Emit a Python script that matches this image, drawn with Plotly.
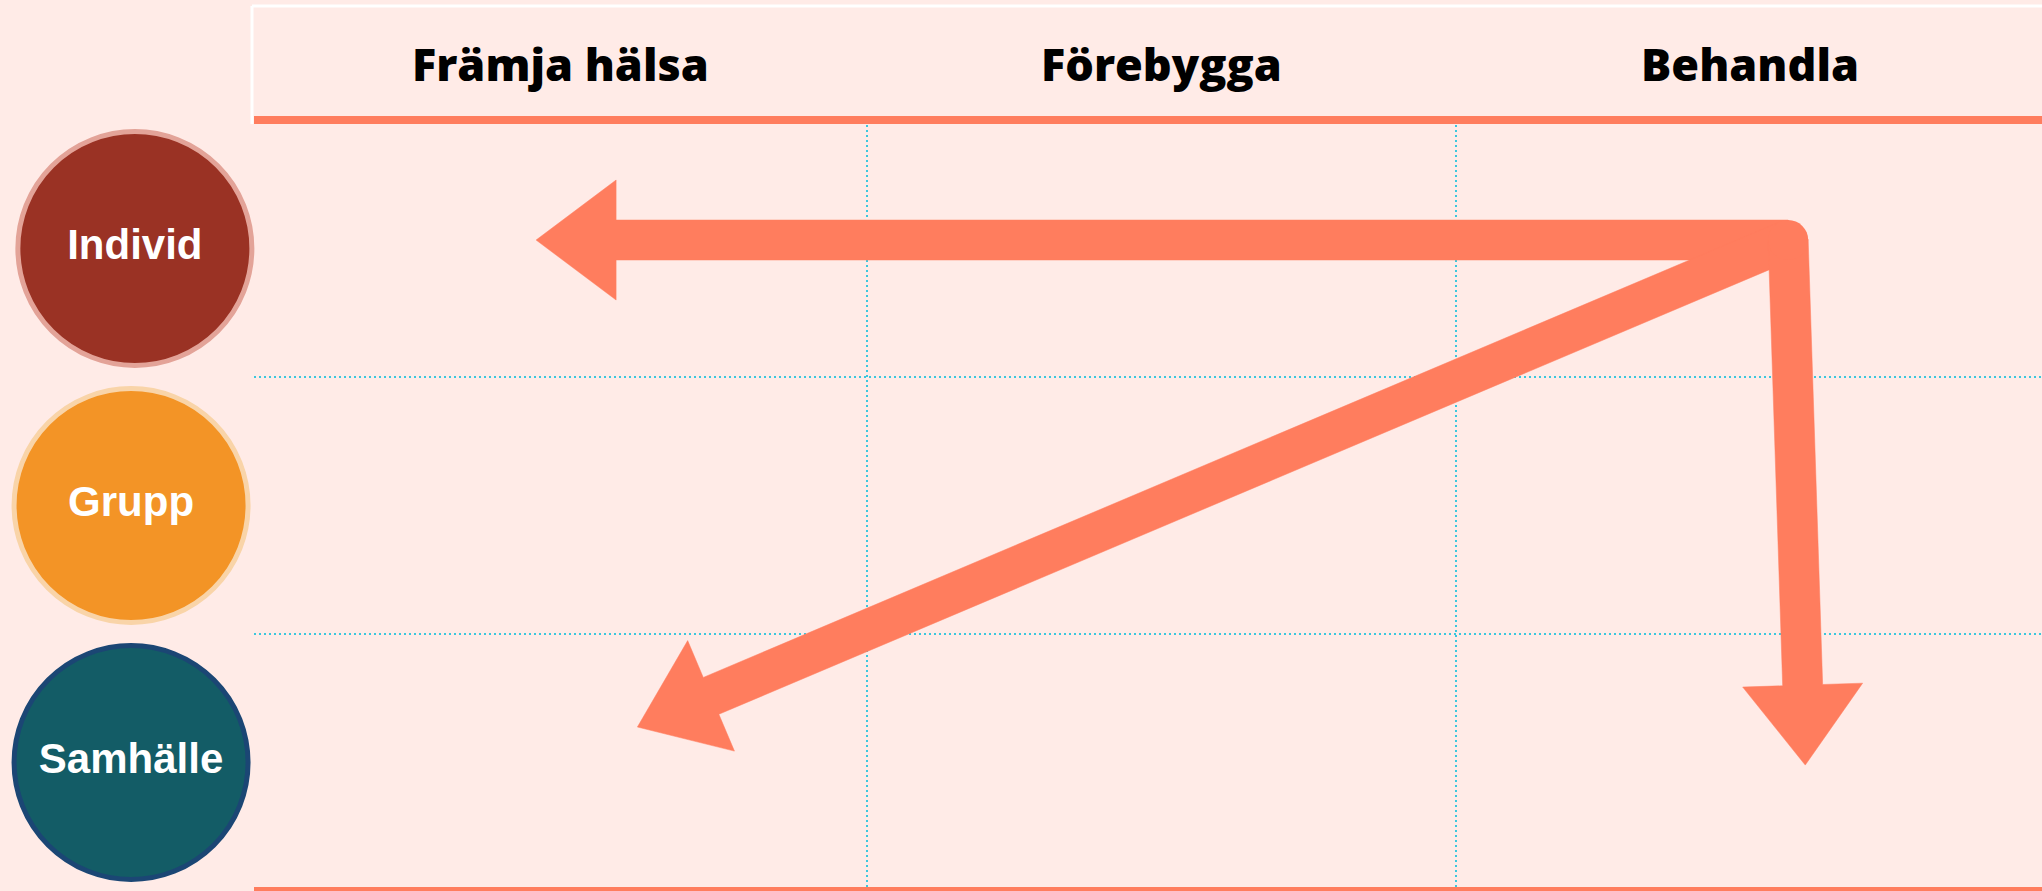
import numpy as np
import plotly.graph_objects as go

# ---------------- data ----------------
columns = ["Främja hälsa", "Förebygga", "Behandla"]
levels = ["Individ", "Grupp", "Samhälle"]
level_fill = ["#9A3224", "#F39426", "#135C66"]
level_border = ["#E3A398", "#F9D4A8", "#1B4674"]
circle_x = [0.531, 0.516, 0.516]
circle_y = [0.5, 1.5, 2.5]

arrow_start = (2.564, 0.467)
arrow_end_x = [0.438, 0.610, 2.593]
arrow_end_y = [0.467, 2.362, 2.510]

# ---------------- layout constants ----------------
W, H = 2042, 891
ML, MT = 254, 120
PW, PH = W - ML, H - MT
XR = [-0.041, 2.995]
YR = [3, 0]
BG = "#FFEBE7"
ARROW = "#FF7D5E"
GRID = "#3CC7DD"

def to_px(x, y):
    px = ML + (x - XR[0]) / (XR[1] - XR[0]) * PW
    py = MT + (y - YR[1]) / (YR[0] - YR[1]) * PH
    return np.array([px, py])

def to_data(p):
    x = XR[0] + (p[0] - ML) / PW * (XR[1] - XR[0])
    y = YR[1] + (p[1] - MT) / PH * (YR[0] - YR[1])
    return x, y

def pxx(px):
    return px / W

def pyy(py):
    return (H - py) / H

fig = go.Figure()

SHAFT = 40.0
HEAD_W = 120.0
HEAD_L = 80.0

S = to_px(*arrow_start)
for ex, ey in zip(arrow_end_x, arrow_end_y):
    T = to_px(ex, ey)
    d = T - S
    u = d / np.linalg.norm(d)
    n = np.array([-u[1], u[0]])
    B = T - HEAD_L * u
    pts = [S + SHAFT / 2 * n, B + SHAFT / 2 * n, B + HEAD_W / 2 * n, T,
           B - HEAD_W / 2 * n, B - SHAFT / 2 * n, S - SHAFT / 2 * n]
    xs, ys = zip(*[to_data(p) for p in pts])
    fig.add_trace(go.Scatter(x=list(xs) + [xs[0]], y=list(ys) + [ys[0]],
                             mode="lines", fill="toself", fillcolor=ARROW,
                             line=dict(color=ARROW, width=0.5),
                             hoverinfo="skip", showlegend=False))

# round joint at the arrows' common start
fig.add_trace(go.Scatter(x=[arrow_start[0]], y=[arrow_start[1]], mode="markers",
                         marker=dict(size=SHAFT, color=ARROW, line=dict(width=0)),
                         hoverinfo="skip", showlegend=False))

# level circles (own small subplot on the left)
fig.add_trace(go.Scatter(
    x=circle_x, y=circle_y, mode="markers+text", text=levels,
    textposition="middle center", xaxis="x2", yaxis="y2",
    textfont=dict(family="Liberation Sans, Arial", size=42, color="white", weight="bold"),
    marker=dict(size=234, color=level_fill, line=dict(color=level_border, width=5)),
    cliponaxis=False, hoverinfo="skip", showlegend=False))

# column headers
first_center = (XR[0] + 1) / 2
col_centers = [first_center, 1.5, 2.5]
annotations = []
for cx, lab in zip(col_centers, columns):
    annotations.append(dict(x=cx, xref="x", y=pyy(63), yref="paper", text=lab,
                            showarrow=False, xanchor="center", yanchor="middle",
                            font=dict(family="Open Sans", size=45, color="black", weight=800)))

shapes = [
    # white header frame (top & left)
    dict(type="line", xref="paper", yref="paper", x0=pxx(252), x1=1.01,
         y0=pyy(6), y1=pyy(6), line=dict(color="white", width=3), layer="above"),
    dict(type="line", xref="paper", yref="paper", x0=pxx(252), x1=pxx(252),
         y0=pyy(6), y1=pyy(124), line=dict(color="white", width=3), layer="above"),
    # orange header underline
    dict(type="line", xref="paper", yref="paper", x0=pxx(ML), x1=1.01, y0=pyy(MT), y1=pyy(MT),
         line=dict(color=ARROW, width=8), layer="above"),
    # orange bottom line
    dict(type="line", xref="paper", yref="paper", x0=pxx(ML), x1=1.01, y0=0, y1=0,
         line=dict(color=ARROW, width=8), layer="above"),
]

noax = dict(showticklabels=False, ticks="", showgrid=False, zeroline=False,
            showline=False, fixedrange=True)

fig.update_layout(
    width=W, height=H,
    margin=dict(l=0, r=0, t=0, b=0, pad=0),
    paper_bgcolor=BG, plot_bgcolor=BG,
    showlegend=False,
    annotations=annotations,
    shapes=shapes,
    xaxis=dict(domain=[pxx(ML), 1], range=XR, tickvals=[1, 2], showticklabels=False, ticks="",
               showgrid=True, gridcolor=GRID, gridwidth=2, griddash="2px,3px",
               zeroline=False, showline=False, fixedrange=True, anchor="y"),
    yaxis=dict(domain=[0, pyy(MT)], range=YR, tickvals=[1, 2], showticklabels=False, ticks="",
               showgrid=True, gridcolor=GRID, gridwidth=2, griddash="2px,3px",
               zeroline=False, showline=False, fixedrange=True, anchor="x"),
    xaxis2=dict(domain=[0, pxx(ML)], range=[0, 1], anchor="y2", **noax),
    yaxis2=dict(domain=[0, pyy(MT)], range=YR, anchor="x2", **noax),
)

fig.write_html("out.html", config={"displayModeBar": False},
               post_script="document.body.style.margin='0px';"
                           "document.body.style.background='#FFEBE7';")
